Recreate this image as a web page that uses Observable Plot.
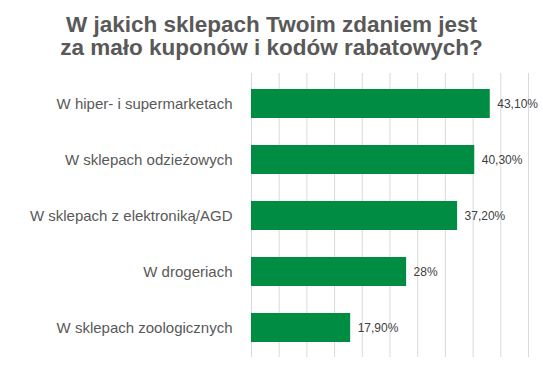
<!DOCTYPE html>
<html>
<head>
<meta charset="utf-8">
<script src="https://cdn.jsdelivr.net/npm/d3@7"></script>
<script src="https://cdn.jsdelivr.net/npm/@observablehq/plot@0.6"></script>
<style>
  html, body { margin: 0; padding: 0; background: #fff; }
  #title {
    width: 543px; height: 62px; box-sizing: border-box;
    padding-top: 13px;
    text-align: center;
    font-family: "Liberation Sans", Arial, sans-serif;
    font-weight: bold; font-size: 22.5px; line-height: 23px;
    color: #595959;
  }
  #chart svg { display: block; }
</style>
</head>
<body>
<div id="title">W jakich sklepach Twoim zdaniem jest<br>za mało kuponów i kodów rabatowych?</div>
<div id="chart"></div>
<script>
const categories = [
  "W hiper- i supermarketach",
  "W sklepach odzieżowych",
  "W sklepach z elektroniką/AGD",
  "W drogeriach",
  "W sklepach zoologicznych"
];
const values = [43.1, 40.3, 37.2, 28, 17.9];
const valueLabels = ["43,10%", "40,30%", "37,20%", "28%", "17,90%"];
const gridTicks = [0, 5, 10, 15, 20, 25, 30, 35, 40, 45, 50];

const data = categories.map((c, i) => ({category: c, value: values[i], label: valueLabels[i]}));

const chart = Plot.plot({
  width: 543,
  height: 313,
  marginTop: 11,
  marginBottom: 18,
  marginLeft: 251,
  marginRight: 15,
  style: {fontFamily: "'Liberation Sans', Arial, sans-serif", background: "#fff"},
  x: {domain: [0, 50], axis: null},
  y: {domain: categories, paddingInner: 0.49, paddingOuter: 0.245, label: null},
  marks: [
    Plot.ruleX(gridTicks, {stroke: "#d9d9d9", strokeWidth: 1, strokeOpacity: 1}),
    Plot.barX(data, {x: "value", y: "category", fill: "#008D43"}),
    Plot.text(data, {x: "value", y: "category", text: "label", textAnchor: "start", dx: 7, fontSize: 12, fill: "#404040"}),
    Plot.axisY({tickSize: 0, tickPadding: 19, fontSize: 15, color: "#595959", label: null})
  ]
});
document.getElementById("chart").appendChild(chart);
</script>
</body>
</html>
